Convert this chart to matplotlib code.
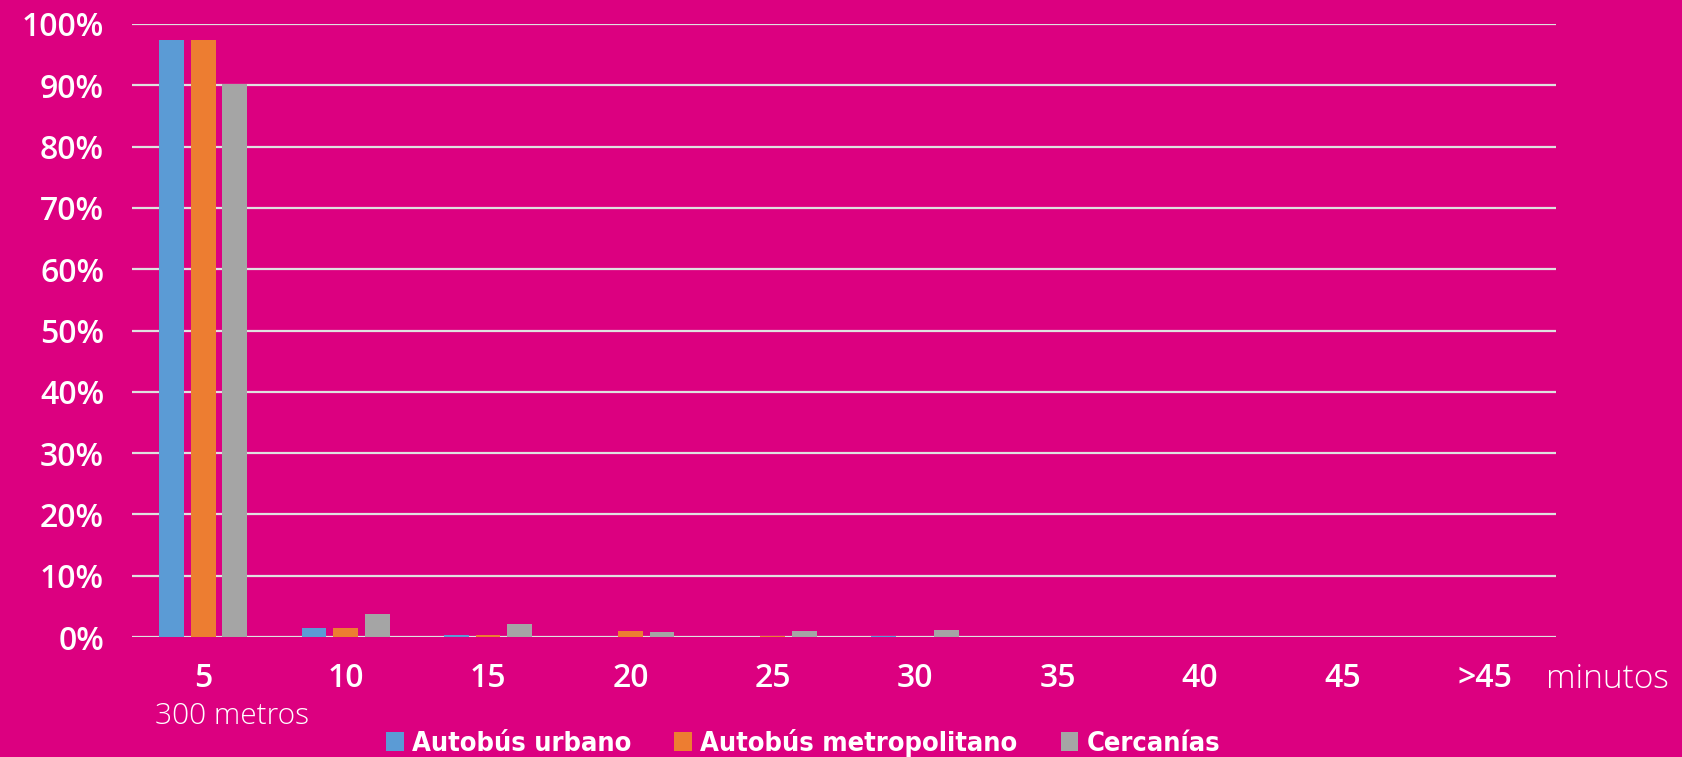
import matplotlib
matplotlib.use("Agg")
import matplotlib.pyplot as plt
import numpy as np
from matplotlib.patches import Patch

categories = ["5", "10", "15", "20", "25", "30", "35", "40", "45", ">45"]
autobus_urbano = [97.4, 1.5, 0.4, 0.0, 0.0, 0.1, 0.0, 0.0, 0.0, 0.0]
autobus_metropolitano = [97.4, 1.5, 0.3, 1.0, 0.1, 0.0, 0.0, 0.0, 0.0, 0.0]
cercanias = [90.2, 3.7, 2.2, 0.8, 0.9, 1.2, 0.0, 0.0, 0.0, 0.0]
series_names = ["Autobús urbano", "Autobús metropolitano", "Cercanías"]
yticks = [0, 10, 20, 30, 40, 50, 60, 70, 80, 90, 100]

BG = "#DC0080"
colors = ["#5B9BD5", "#ED7D31", "#A5A5A5"]

W, H = 1683, 757
fig = plt.figure(figsize=(W / 100, H / 100), dpi=100, facecolor=BG)
ax = fig.add_axes([132 / W, 1 - 637 / H, (1556 - 132) / W, (637 - 24) / H])
ax.set_facecolor(BG)

x = np.arange(len(categories))
bw = 0.173
off = 0.222
for i, (vals, c) in enumerate(zip([autobus_urbano, autobus_metropolitano, cercanias], colors)):
    ax.bar(x + (i - 1) * off, vals, width=bw, color=c, zorder=3)

ax.set_xlim(-0.5, len(categories) - 0.5)
ax.set_ylim(0, 100)
ax.set_yticks(yticks)
ax.set_yticklabels([f"{v}%" for v in yticks])
ax.set_xticks(x)
ax.set_xticklabels(categories)
for s in ax.spines.values():
    s.set_visible(False)
ax.grid(axis="y", color="#E0E0E0", linewidth=1.6, zorder=1)
ax.tick_params(axis="both", length=0, colors="white")
ax.tick_params(axis="y", pad=20)
ax.tick_params(axis="x", pad=18)
for lab in ax.get_yticklabels() + ax.get_xticklabels():
    lab.set_fontsize(23)
    lab.set_fontweight("semibold")
    lab.set_color("white")
    lab.set_family(["Open Sans", "DejaVu Sans"])

fig.text(1546 / W, 1 - 679 / H, "minutos", color="white", fontsize=24,
         family=["Open Sans", "DejaVu Sans"], fontweight="light", ha="left", va="center")
fig.text(232 / W, 1 - 716 / H, "300 metros", color="white", fontsize=21.5,
         family=["Open Sans", "DejaVu Sans"], fontweight="light", ha="center", va="center")

handles = [Patch(facecolor=c, edgecolor="none") for c in colors]
leg = fig.legend(handles, series_names, loc="center", bbox_to_anchor=(803 / W, 1 - 743 / H),
                 ncol=3, frameon=False, handlelength=0.65, handleheight=0.65,
                 handletextpad=0.3, columnspacing=1.6,
                 prop={"family": ["DejaVu Sans"], "stretch": "condensed", "weight": "bold", "size": 19.5})
for t in leg.get_texts():
    t.set_color("white")

fig.savefig("out.png", dpi=100, facecolor=BG)
